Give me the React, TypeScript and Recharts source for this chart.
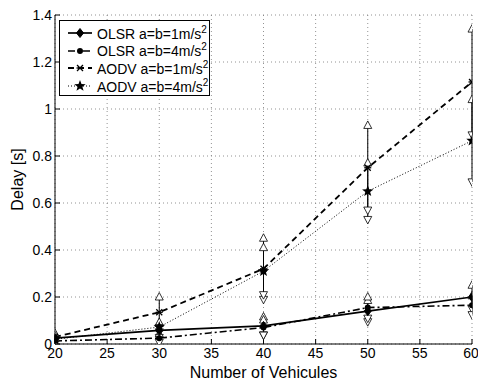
import {
  CartesianGrid,
  ComposedChart,
  ErrorBar,
  Line,
  Scatter,
  XAxis,
  YAxis,
} from "recharts";

const vehicles = [20, 30, 40, 50, 60];

const olsr1Delay = [0.025, 0.058, 0.077, 0.14, 0.2];
const olsr1Err = [0.015, 0.03, 0.038, 0.045, 0.05];
const olsr4Delay = [0.013, 0.025, 0.07, 0.155, 0.165];
const olsr4Err = [0.01, 0.018, 0.032, 0.045, 0.04];
const aodv1Delay = [0.03, 0.135, 0.32, 0.75, 1.115];
const aodv1Err = [0.015, 0.065, 0.13, 0.18, 0.225];
const aodv4Delay = [0.02, 0.072, 0.31, 0.65, 0.865];
const aodv4Err = [0.015, 0.02, 0.1, 0.12, 0.175];

const xTicks = [20, 25, 30, 35, 40, 45, 50, 55, 60];
const yTicks = [0, 0.2, 0.4, 0.6, 0.8, 1, 1.2, 1.4];

const FONT = "'Liberation Sans', Arial, Helvetica, sans-serif";

type MarkerKind = "diamond" | "circle" | "asterisk" | "star";

const series = [
  { key: "olsr1", name: "OLSR a=b=1m/s", values: olsr1Delay, err: olsr1Err, dash: undefined, width: 1.7, marker: "diamond" as MarkerKind },
  { key: "olsr4", name: "OLSR a=b=4m/s", values: olsr4Delay, err: olsr4Err, dash: "7 3 2 3", width: 1.6, marker: "circle" as MarkerKind },
  { key: "aodv1", name: "AODV a=b=1m/s", values: aodv1Delay, err: aodv1Err, dash: "6 4", width: 1.8, marker: "asterisk" as MarkerKind },
  { key: "aodv4", name: "AODV a=b=4m/s", values: aodv4Delay, err: aodv4Err, dash: "1 2", width: 1, marker: "star" as MarkerKind },
];

const rows = vehicles.map((n, i) => {
  const row: Record<string, number> = { n };
  series.forEach((s) => {
    row[s.key] = s.values[i];
    row[`${s.key}Err`] = s.err[i];
    row[`${s.key}Hi`] = s.values[i] + s.err[i];
    row[`${s.key}Lo`] = s.values[i] - s.err[i];
  });
  return row;
});

const starPoints = (cx: number, cy: number, r: number) => {
  const pts: string[] = [];
  for (let k = 0; k < 10; k++) {
    const rad = k % 2 === 0 ? r : r * 0.42;
    const a = -Math.PI / 2 + (k * Math.PI) / 5;
    pts.push(`${cx + rad * Math.cos(a)},${cy + rad * Math.sin(a)}`);
  }
  return pts.join(" ");
};

const Marker = ({ kind, cx, cy }: { kind: MarkerKind; cx: number; cy: number }) => {
  if (kind === "diamond") {
    return (
      <polygon
        points={`${cx},${cy - 4.5} ${cx + 3.5},${cy} ${cx},${cy + 4.5} ${cx - 3.5},${cy}`}
        fill="#000"
        stroke="#000"
        strokeWidth={1}
      />
    );
  }
  if (kind === "circle") {
    return <circle cx={cx} cy={cy} r={3} fill="#000" />;
  }
  if (kind === "asterisk") {
    return (
      <g stroke="#000" strokeWidth={1.3}>
        <line x1={cx - 3} y1={cy - 3} x2={cx + 3} y2={cy + 3} />
        <line x1={cx - 3} y1={cy + 3} x2={cx + 3} y2={cy - 3} />
        <line x1={cx - 3.5} y1={cy} x2={cx + 3.5} y2={cy} />
      </g>
    );
  }
  return <polygon points={starPoints(cx, cy, 6)} fill="#000" />;
};

const UpTriangle = (props: any) => {
  const { cx, cy } = props;
  return (
    <polygon
      points={`${cx},${cy - 4.5} ${cx + 4},${cy + 3} ${cx - 4},${cy + 3}`}
      fill="#fff"
      stroke="#000"
      strokeWidth={0.8}
    />
  );
};

const DownTriangle = (props: any) => {
  const { cx, cy } = props;
  return (
    <polygon
      points={`${cx},${cy + 4.5} ${cx + 4},${cy - 3} ${cx - 4},${cy - 3}`}
      fill="#fff"
      stroke="#000"
      strokeWidth={0.8}
    />
  );
};

const LegendBox = () => (
  <div
    style={{
      position: "absolute",
      left: 59,
      top: 20,
      width: 151,
      height: 76,
      border: "1px solid #000",
      background: "#fff",
      fontFamily: FONT,
      fontSize: 14,
      boxSizing: "border-box",
    }}
  >
    {series.map((s, i) => (
      <div
        key={s.key}
        style={{ position: "absolute", left: 0, top: 3 + i * 17.7, height: 17, display: "flex", alignItems: "center" }}
      >
        <svg width={36} height={17} style={{ marginLeft: 4 }}>
          <line x1={4} y1={9} x2={28} y2={9} stroke="#000" strokeWidth={s.width} strokeDasharray={s.dash} />
          <Marker kind={s.marker} cx={16} cy={9} />
        </svg>
        <span style={{ marginLeft: -3, whiteSpace: "nowrap" }}>
          {s.name}
          <sup style={{ fontSize: 10, verticalAlign: 6 }}>2</sup>
        </span>
      </div>
    ))}
  </div>
);

export default function App() {
  return (
    <div style={{ position: "absolute", left: 0, top: 0, width: 478, height: 382, background: "#fff" }}>
      <ComposedChart
        width={478}
        height={382}
        data={rows}
        margin={{ top: 15, right: 6, bottom: 0, left: 0 }}
        style={{ fontFamily: FONT }}
      >
        <CartesianGrid stroke="#777" strokeDasharray="1 3" strokeWidth={0.8} />
        <XAxis
          dataKey="n"
          type="number"
          domain={[20, 60]}
          ticks={xTicks}
          allowDataOverflow
          height={38}
          tickSize={-5}
          tickMargin={9}
          axisLine={{ stroke: "#000" }}
          tickLine={{ stroke: "#000" }}
          tick={{ fill: "#000", fontSize: 14 }}
          label={{ value: "Number of Vehicules", position: "insideBottom", offset: 4, fill: "#000", fontSize: 16 }}
        />
        <XAxis
          xAxisId="top"
          orientation="top"
          type="number"
          domain={[20, 60]}
          ticks={xTicks}
          height={0}
          tickSize={-5}
          tickFormatter={() => ""}
          axisLine={{ stroke: "#000" }}
          tickLine={{ stroke: "#000" }}
        />
        <YAxis
          type="number"
          domain={[0, 1.4]}
          ticks={yTicks}
          allowDataOverflow
          width={55}
          tickSize={-5}
          tickMargin={8}
          axisLine={{ stroke: "#000" }}
          tickLine={{ stroke: "#000" }}
          tick={{ fill: "#000", fontSize: 14 }}
          label={{
            value: "Delay [s]",
            angle: -90,
            position: "insideLeft",
            offset: 17,
            fill: "#000",
            fontSize: 16,
            style: { textAnchor: "middle" },
          }}
        />
        <YAxis
          yAxisId="right"
          orientation="right"
          type="number"
          domain={[0, 1.4]}
          ticks={yTicks}
          width={0}
          tickSize={-5}
          tickFormatter={() => ""}
          axisLine={{ stroke: "#000" }}
          tickLine={{ stroke: "#000" }}
        />
        {series.map((s) => (
          <Scatter
            key={`${s.key}-hi`}
            dataKey={`${s.key}Hi`}
            shape={UpTriangle}
            isAnimationActive={false}
            legendType="none"
          />
        ))}
        {series.map((s) => (
          <Scatter
            key={`${s.key}-lo`}
            dataKey={`${s.key}Lo`}
            shape={DownTriangle}
            isAnimationActive={false}
            legendType="none"
          />
        ))}
        {series.map((s) => (
          <Line
            key={s.key}
            dataKey={s.key}
            name={s.name}
            type="linear"
            stroke="#000"
            strokeWidth={s.width}
            strokeDasharray={s.dash}
            isAnimationActive={false}
            dot={(p: any) => <Marker key={`${s.key}-${p.index}`} kind={s.marker} cx={p.cx} cy={p.cy} />}
            activeDot={false}
          >
            <ErrorBar dataKey={`${s.key}Err`} width={0} stroke="#000" strokeWidth={1} direction="y" />
          </Line>
        ))}
      </ComposedChart>
      <LegendBox />
    </div>
  );
}
